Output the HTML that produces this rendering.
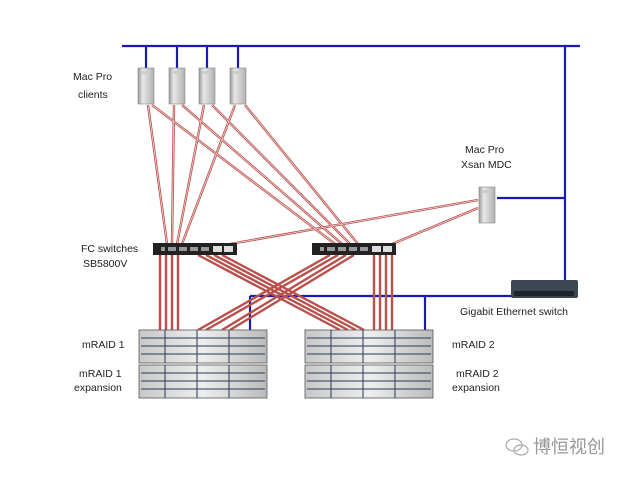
<!DOCTYPE html>
<html><head><meta charset="utf-8"><style>
body{margin:0;background:#fff;width:639px;height:480px;overflow:hidden}
svg{display:block}
text{font-family:"Liberation Sans","Noto Sans CJK SC",sans-serif;font-size:10.5px;fill:#222}
</style></head><body>
<svg width="639" height="480" viewBox="0 0 639 480">
<defs>
<linearGradient id="tw" x1="0" x2="1"><stop offset="0" stop-color="#9a9a9a"/><stop offset="0.3" stop-color="#e8e8e8"/><stop offset="1" stop-color="#b0b0b0"/></linearGradient>
<linearGradient id="rd" x1="0" x2="1"><stop offset="0" stop-color="#c8c8c8"/><stop offset="0.5" stop-color="#eeeeee"/><stop offset="1" stop-color="#bbbbbb"/></linearGradient>
<g id="tower"><rect x="0" y="0" width="16" height="36" fill="url(#tw)" stroke="#888" stroke-width="0.6"/><rect x="4" y="3" width="8" height="3" fill="#ccc"/></g>
<g id="fcs"><rect x="0" y="0" width="84" height="12" fill="#222"/><rect x="60" y="3" width="9" height="6" fill="#ddd"/><rect x="71" y="3" width="9" height="6" fill="#ddd"/><g fill="#999"><rect x="8" y="4" width="4" height="4"/><rect x="15" y="4" width="8" height="4"/><rect x="26" y="4" width="8" height="4"/><rect x="37" y="4" width="8" height="4"/><rect x="48" y="4" width="8" height="4"/></g></g>
<g id="raid"><rect x="0" y="0" width="128" height="33" fill="url(#rd)" stroke="#555" stroke-width="0.8"/><g stroke="#2a3a5a" stroke-width="1"><line x1="26" y1="0" x2="26" y2="33"/><line x1="58" y1="0" x2="58" y2="33"/><line x1="90" y1="0" x2="90" y2="33"/><line x1="2" y1="8" x2="126" y2="8"/><line x1="2" y1="16" x2="126" y2="16"/><line x1="2" y1="24" x2="126" y2="24"/></g></g>
</defs>
<!-- blue network -->
<g stroke="#1a1ab0" stroke-width="2.2" fill="none">
<line x1="122" y1="46" x2="580" y2="46"/>
<line x1="146" y1="46" x2="146" y2="68"/><line x1="177" y1="46" x2="177" y2="68"/><line x1="207" y1="46" x2="207" y2="68"/><line x1="238" y1="46" x2="238" y2="68"/>
<line x1="565" y1="46" x2="565" y2="282"/>
<line x1="497" y1="198" x2="565" y2="198"/>
<line x1="250" y1="296" x2="512" y2="296"/>
<line x1="250" y1="296" x2="250" y2="330"/>
<line x1="425" y1="296" x2="425" y2="330"/>
</g>
<!-- red FC -->
<g stroke="#b9504c" stroke-width="2.4" fill="none">
<line x1="148" y1="105" x2="167" y2="244"/><line x1="152" y1="105" x2="335" y2="244"/>
<line x1="174" y1="105" x2="172" y2="244"/><line x1="182" y1="105" x2="342" y2="244"/>
<line x1="204" y1="105" x2="177" y2="244"/><line x1="212" y1="105" x2="350" y2="244"/>
<line x1="235" y1="105" x2="182" y2="244"/><line x1="245" y1="105" x2="358" y2="244"/>
<line x1="478" y1="200" x2="230" y2="244"/><line x1="478" y1="208" x2="392" y2="244"/>
<line x1="160" y1="255" x2="160" y2="330"/><line x1="166" y1="255" x2="166" y2="330"/><line x1="172" y1="255" x2="172" y2="330"/><line x1="178" y1="255" x2="178" y2="330"/>
<line x1="374" y1="255" x2="374" y2="330"/><line x1="380" y1="255" x2="380" y2="330"/><line x1="386" y1="255" x2="386" y2="330"/><line x1="392" y1="255" x2="392" y2="330"/>
<line x1="198" y1="255" x2="340" y2="330"/><line x1="206" y1="255" x2="348" y2="330"/><line x1="214" y1="255" x2="356" y2="330"/><line x1="222" y1="255" x2="364" y2="330"/>
<line x1="330" y1="255" x2="198" y2="330"/><line x1="338" y1="255" x2="206" y2="330"/><line x1="346" y1="255" x2="222" y2="330"/><line x1="354" y1="255" x2="230" y2="330"/>
</g>
<g stroke="#f2d0cf" stroke-width="0.8" fill="none">
<line x1="148" y1="105" x2="167" y2="244"/><line x1="152" y1="105" x2="335" y2="244"/>
<line x1="174" y1="105" x2="172" y2="244"/><line x1="182" y1="105" x2="342" y2="244"/>
<line x1="204" y1="105" x2="177" y2="244"/><line x1="212" y1="105" x2="350" y2="244"/>
<line x1="235" y1="105" x2="182" y2="244"/><line x1="245" y1="105" x2="358" y2="244"/>
<line x1="478" y1="200" x2="230" y2="244"/><line x1="478" y1="208" x2="392" y2="244"/>
</g>
<use href="#tower" x="138" y="68"/><use href="#tower" x="169" y="68"/><use href="#tower" x="199" y="68"/><use href="#tower" x="230" y="68"/>
<use href="#tower" x="479" y="187"/>
<use href="#fcs" x="153" y="243"/><use href="#fcs" x="312" y="243"/>
<rect x="511" y="280" width="67" height="18" fill="#3c4552" rx="2"/><rect x="514" y="291" width="60" height="5" fill="#1e232a"/>
<use href="#raid" x="139" y="330"/><use href="#raid" x="139" y="365"/>
<use href="#raid" x="305" y="330"/><use href="#raid" x="305" y="365"/>
<text x="73" y="80">Mac Pro</text><text x="78" y="98">clients</text>
<text x="465" y="153">Mac Pro</text><text x="461" y="168">Xsan MDC</text>
<text x="81" y="252">FC switches</text><text x="83" y="267">SB5800V</text>
<text x="460" y="315">Gigabit Ethernet switch</text>
<text x="82" y="348">mRAID 1</text><text x="79" y="377">mRAID 1</text><text x="74" y="391">expansion</text>
<text x="452" y="348">mRAID 2</text><text x="456" y="377">mRAID 2</text><text x="452" y="391">expansion</text>
<text x="533" y="453" style="font-size:18px;fill:#999">博恒视创</text>
<g fill="none" stroke="#aaa" stroke-width="1.2"><ellipse cx="514" cy="445" rx="8" ry="6"/><ellipse cx="521" cy="450" rx="7" ry="5"/></g>
</svg>
</body></html>
